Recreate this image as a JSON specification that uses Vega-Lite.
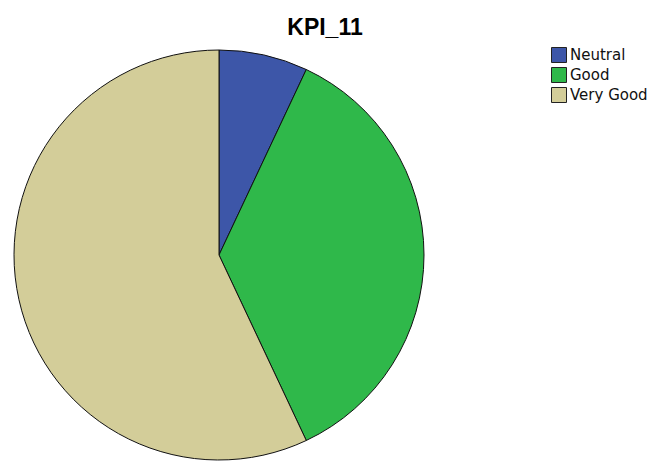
{
  "$schema": "https://vega.github.io/schema/vega-lite/v6.json",
  "width": 438,
  "height": 420,
  "autosize": "none",
  "padding": {"top": 45, "left": 0, "right": 232, "bottom": 3},
  "background": "#ffffff",
  "title": {
    "text": "KPI_11",
    "font": "Liberation Sans",
    "fontSize": 23,
    "fontWeight": "bold",
    "color": "#000000",
    "anchor": "middle",
    "dx": 106,
    "offset": 5
  },
  "data": {
    "values": [
      {"rating": "Neutral", "count": 7, "rank": 1},
      {"rating": "Good", "count": 36, "rank": 2},
      {"rating": "Very Good", "count": 57, "rank": 3}
    ]
  },
  "mark": {"type": "arc", "radius": 205, "stroke": "#111111", "strokeWidth": 1},
  "encoding": {
    "theta": {"field": "count", "type": "quantitative", "stack": true},
    "order": {"field": "rank", "type": "quantitative"},
    "color": {
      "field": "rating",
      "type": "nominal",
      "scale": {
        "domain": ["Neutral", "Good", "Very Good"],
        "range": ["#3d56a8", "#2fb84a", "#d3cd99"]
      },
      "legend": {
        "title": null,
        "orient": "none",
        "legendX": 551,
        "legendY": 2,
        "symbolType": "square",
        "symbolSize": 225,
        "symbolStrokeColor": "#222222",
        "symbolStrokeWidth": 1,
        "symbolOpacity": 1,
        "labelFont": "DejaVu Sans",
        "labelFontSize": 15,
        "labelColor": "#111111",
        "labelOffset": 3,
        "rowPadding": 0,
        "padding": 0
      }
    }
  }
}
